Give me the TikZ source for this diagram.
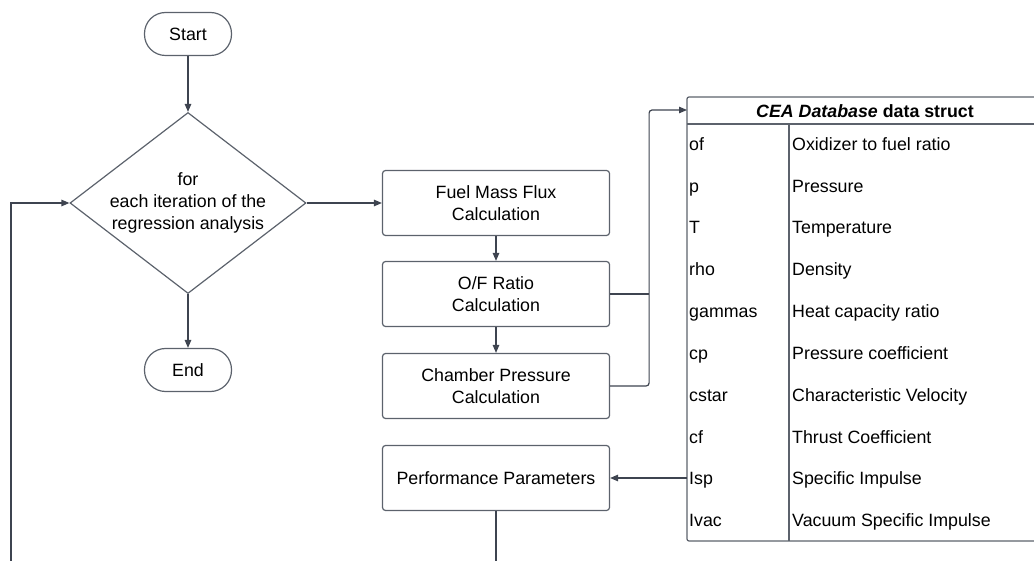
\documentclass[tikz,border=0pt]{standalone}
\usepackage{fontspec}
\setmainfont{Liberation Sans}
\usetikzlibrary{calc,positioning,shapes.geometric,arrows.meta}

\definecolor{wire}{RGB}{62,68,80}
\definecolor{frame}{RGB}{92,98,108}

\begin{document}
\begin{tikzpicture}[x=1pt,y=-1pt,
  font=\fontsize{17.8}{21.8}\selectfont,
  terminal/.style={draw=frame,line width=1.2pt,rounded corners=21pt,
    minimum width=87pt,minimum height=43pt,inner sep=0pt},
  decision/.style={draw=frame,line width=1.2pt,diamond,aspect=1.3,inner sep=0pt,
    minimum width=236pt,minimum height=181pt,align=center},
  process/.style={draw=frame,line width=1.2pt,rounded corners=3pt,
    minimum width=227pt,minimum height=65pt,align=center},
  cell/.style={anchor=base west,inner sep=0pt},
  wireline/.style={draw=wire,line width=1.2pt},
  flow/.style={wireline,-{Triangle[length=8pt,width=6.5pt]}}]

\useasboundingbox (0,0) rectangle (1034,561);

% main loop
\node[terminal] (start) at (188,34) {Start};
\node[decision] (loop) at (188,203) {for\\each iteration of the\\regression analysis};
\node[terminal] (end) at (188,370) {End};

\draw[flow] (start) -- (loop);
\draw[flow] (loop) -- (end);
\coordinate (back) at (11,575);
\draw[flow] (back) |- (loop.west);

% calculation chain
\node[process] (flux) at (496,203) {Fuel Mass Flux\\Calculation};
\node[process] (ratio) at (496,294) {O/F Ratio\\Calculation};
\node[process] (cham) at (496,386) {Chamber Pressure\\Calculation};
\node[process] (perf) at (496,478) {Performance Parameters};

\draw[flow] (loop.east) -- (flux.west);
\draw[flow] (flux) -- (ratio);
\draw[flow] (ratio) -- (cham);
\draw[wireline] (perf.south) -- ++(0,65);

% CEA data struct table
\coordinate (tabin) at (687,110);
\coordinate (tabout) at (687,478);
\draw[draw=frame,line width=1.2pt,rounded corners=2pt] (687,97) rectangle (1043,541);
\draw[draw=frame,line width=1.2pt] (687,124) -- (1043,124);
\draw[draw=frame,line width=1.2pt] (789,124) -- (789,541);
\node (head) at (865,111) {\textbf{\textit{CEA Database} data struct}};

\foreach \key/\desc [count=\i] in {of/Oxidizer to fuel ratio,p/Pressure,T/Temperature,
    rho/Density,gammas/Heat capacity ratio,cp/Pressure coefficient,
    cstar/Characteristic Velocity,cf/Thrust Coefficient,Isp/Specific Impulse,
    Ivac/Vacuum Specific Impulse}{
  \node[cell] (key\i) at (689,108.6+\i*41.8) {\key};
  \node[cell] (desc\i) at (792,108.6+\i*41.8) {\desc};
}

\draw[wireline] (ratio.east) -- ++(39,0);
\draw[flow,rounded corners=3pt] (cham.east) -- ++(39,0) |- (tabin);
\draw[flow] (tabout) -- (perf.east);

\end{tikzpicture}
\end{document}
